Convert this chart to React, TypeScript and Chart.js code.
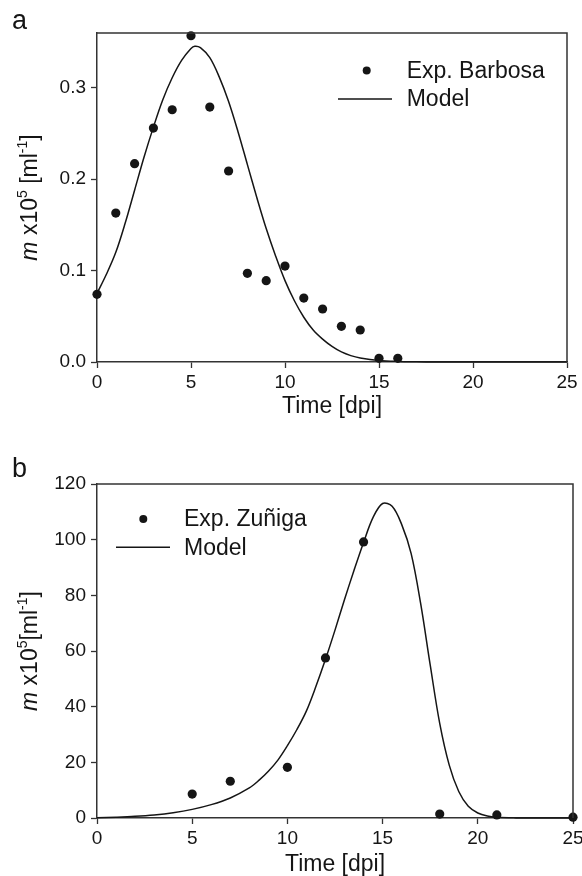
import React, { useEffect, useRef } from "react";
import { Chart, registerables } from "chart.js";

Chart.register(...registerables);

// ---------- Panel a data ----------
const barbosaDays = [0, 1, 2, 3, 4, 5, 6, 7, 8, 9, 10, 11, 12, 13, 14, 15, 16];
const barbosaValues = [0.074, 0.163, 0.217, 0.256, 0.276, 0.357, 0.279, 0.209, 0.097, 0.089, 0.105, 0.070, 0.058, 0.039, 0.035, 0.004, 0.004];
const modelATimes = [0, 0.5, 1, 1.5, 2, 2.5, 3, 3.5, 4, 4.5, 5, 5.2, 5.5, 6, 6.5, 7, 7.5, 8, 8.5, 9, 9.5, 10, 10.5, 11, 11.5, 12, 12.5, 13, 13.5, 14, 15, 16, 17, 18, 20, 25];
const modelAValues = [0.075, 0.096, 0.120, 0.152, 0.188, 0.224, 0.257, 0.287, 0.311, 0.330, 0.343, 0.3455, 0.344, 0.333, 0.312, 0.285, 0.252, 0.216, 0.180, 0.146, 0.116, 0.089, 0.067, 0.049, 0.035, 0.025, 0.017, 0.011, 0.007, 0.0045, 0.0017, 0.0006, 0.0002, 0, 0, 0];
const yTicksA = [0, 0.1, 0.2, 0.3];

// ---------- Panel b data ----------
const zunigaDays = [5, 7, 10, 12, 14, 18, 21, 25];
const zunigaValues = [8.6, 13.2, 18.2, 57.5, 99.2, 1.4, 1.1, 0.3];
const modelBTimes = [0, 1, 2, 3, 4, 5, 6, 7, 8, 8.5, 9, 9.5, 10, 10.5, 11, 11.5, 12, 12.5, 13, 13.5, 14, 14.5, 15, 15.5, 16, 16.5, 17, 17.5, 18, 18.5, 19, 19.5, 20, 20.5, 21, 22, 23, 25];
const modelBValues = [0.1, 0.3, 0.6, 1.1, 1.9, 3.1, 4.8, 7.2, 10.8, 13.5, 16.8, 20.8, 26, 31.8, 38.5, 47.3, 57, 67.5, 78.5, 89, 99, 108, 113, 112, 105.5, 95, 77, 55, 34, 19, 9.5, 4.2, 1.8, 0.7, 0.25, 0.03, 0, 0];
const yTicksB = [0, 20, 40, 60, 80, 100, 120];

const xTicks = [0, 5, 10, 15, 20, 25];

const FONT = "'Liberation Sans', Arial, sans-serif";
const INK = "#151515";
const AXIS = "#333333";

type Part = { t: string; italic?: boolean; sup?: boolean };

function drawRotatedTitle(ctx: CanvasRenderingContext2D, parts: Part[], cx: number, cy: number, size: number) {
  const supSize = Math.round(size * 0.62);
  const fontFor = (p: Part) => `${p.italic ? "italic " : ""}${p.sup ? supSize : size}px ${FONT}`;
  let total = 0;
  for (const p of parts) {
    ctx.font = fontFor(p);
    total += ctx.measureText(p.t).width;
  }
  ctx.save();
  ctx.translate(cx, cy);
  ctx.rotate(-Math.PI / 2);
  ctx.textBaseline = "alphabetic";
  ctx.textAlign = "left";
  ctx.fillStyle = INK;
  let x = -total / 2;
  for (const p of parts) {
    ctx.font = fontFor(p);
    ctx.fillText(p.t, x, p.sup ? -size * 0.42 : 0);
    x += ctx.measureText(p.t).width;
  }
  ctx.restore();
}

type PanelCfg = {
  letter: string;
  offsetTop: number;
  padTop: number;
  padRight: number;
  padBottom: number;
  xHeight: number;
  yMax: number;
  yTicks: number[];
  yDecimals: number;
  expLabel: string;
  expX: number[];
  expY: number[];
  modelX: number[];
  modelY: number[];
  legendDot: [number, number];
  legendLineY: number;
  legendLineX: [number, number];
  legendTextX: number;
  titleParts: Part[];
  titleCx: number;
  letterPos: [number, number];
};

const panels: PanelCfg[] = [
  {
    letter: "a",
    offsetTop: 0,
    padTop: 33,
    padRight: 15,
    padBottom: 20,
    xHeight: 56,
    yMax: 0.36,
    yTicks: yTicksA,
    yDecimals: 1,
    expLabel: "Exp. Barbosa",
    expX: barbosaDays,
    expY: barbosaValues,
    modelX: modelATimes,
    modelY: modelAValues,
    legendDot: [366.7, 70.5],
    legendLineY: 99,
    legendLineX: [338, 392],
    legendTextX: 406.7,
    titleParts: [{ t: "m", italic: true }, { t: " x10" }, { t: "5", sup: true }, { t: " [ml" }, { t: "-1", sup: true }, { t: "]" }],
    titleCx: 37,
    letterPos: [12, 29],
  },
  {
    letter: "b",
    offsetTop: 438,
    padTop: 46,
    padRight: 9,
    padBottom: 0,
    xHeight: 58,
    yMax: 120,
    yTicks: yTicksB,
    yDecimals: 0,
    expLabel: "Exp. Zuñiga",
    expX: zunigaDays,
    expY: zunigaValues,
    modelX: modelBTimes,
    modelY: modelBValues,
    legendDot: [143.3, 81],
    legendLineY: 109.3,
    legendLineX: [116, 170],
    legendTextX: 184,
    titleParts: [{ t: "m", italic: true }, { t: " x10" }, { t: "5", sup: true }, { t: "[ml" }, { t: "-1", sup: true }, { t: "]" }],
    titleCx: 37,
    letterPos: [12, 39],
  },
];

function PanelChart({ cfg }: { cfg: PanelCfg }) {
  const ref = useRef<HTMLCanvasElement | null>(null);

  useEffect(() => {
    if (!ref.current) return;
    const annot = {
      id: "annot",
      afterDraw(chart: any) {
        const ctx: CanvasRenderingContext2D = chart.ctx;
        const a = chart.chartArea;
        ctx.save();
        // top & right frame
        ctx.strokeStyle = AXIS;
        ctx.lineWidth = 1.5;
        ctx.beginPath();
        ctx.moveTo(a.left, a.top);
        ctx.lineTo(a.right, a.top);
        ctx.lineTo(a.right, a.bottom);
        ctx.stroke();
        // panel letter
        ctx.fillStyle = INK;
        ctx.font = `27px ${FONT}`;
        ctx.textAlign = "left";
        ctx.textBaseline = "alphabetic";
        ctx.fillText(cfg.letter, cfg.letterPos[0], cfg.letterPos[1]);
        // legend
        ctx.beginPath();
        ctx.arc(cfg.legendDot[0], cfg.legendDot[1], 4, 0, Math.PI * 2);
        ctx.fill();
        ctx.strokeStyle = INK;
        ctx.lineWidth = 1.4;
        ctx.beginPath();
        ctx.moveTo(cfg.legendLineX[0], cfg.legendLineY);
        ctx.lineTo(cfg.legendLineX[1], cfg.legendLineY);
        ctx.stroke();
        ctx.font = `23px ${FONT}`;
        ctx.textBaseline = "middle";
        ctx.fillText(cfg.expLabel, cfg.legendTextX, cfg.legendDot[1] + 1);
        ctx.fillText("Model", cfg.legendTextX, cfg.legendLineY + 1);
        // y title
        drawRotatedTitle(ctx, cfg.titleParts, cfg.titleCx, (a.top + a.bottom) / 2, 23);
        ctx.restore();
      },
    };

    const chart = new Chart(ref.current, {
      type: "scatter",
      data: {
        datasets: [
          {
            label: "Model",
            data: cfg.modelX.map((x, i) => ({ x, y: cfg.modelY[i] })),
            showLine: true,
            borderColor: INK,
            borderWidth: 1.5,
            pointRadius: 0,
            tension: 0.35,
            clip: false,
          } as any,
          {
            label: cfg.expLabel,
            data: cfg.expX.map((x, i) => ({ x, y: cfg.expY[i] })),
            backgroundColor: INK,
            borderColor: INK,
            pointRadius: 4.6,
            borderWidth: 0,
            clip: false,
          } as any,
        ],
      },
      options: {
        responsive: false,
        animation: false,
        events: [],
        layout: { padding: { left: 0, top: cfg.padTop, right: cfg.padRight, bottom: cfg.padBottom } },
        plugins: { legend: { display: false }, tooltip: { enabled: false } },
        scales: {
          x: {
            type: "linear",
            min: 0,
            max: 25,
            afterBuildTicks: (s: any) => {
              s.ticks = xTicks.map((v) => ({ value: v }));
            },
            afterFit: (s: any) => {
              s.height = cfg.xHeight;
              s.paddingLeft = 0;
              s.paddingRight = 0;
            },
            grid: { drawOnChartArea: false, drawTicks: true, tickLength: 6, color: AXIS, tickColor: AXIS, tickWidth: 1.3 },
            border: { display: true, color: AXIS, width: 1.5 },
            ticks: { color: INK, font: { family: FONT, size: 19 }, padding: 3, maxRotation: 0, autoSkip: false },
            title: {
              display: true,
              text: "Time [dpi]",
              color: INK,
              font: { family: FONT, size: 23, lineHeight: 1 },
              padding: { top: 0, bottom: 0 },
            },
          },
          y: {
            type: "linear",
            min: 0,
            max: cfg.yMax,
            afterBuildTicks: (s: any) => {
              s.ticks = cfg.yTicks.map((v) => ({ value: v }));
            },
            afterFit: (s: any) => {
              s.width = 97;
              s.paddingTop = 0;
              s.paddingBottom = 0;
            },
            grid: { drawOnChartArea: false, drawTicks: true, tickLength: 6, color: AXIS, tickColor: AXIS, tickWidth: 1.3 },
            border: { display: true, color: AXIS, width: 1.5 },
            ticks: {
              color: INK,
              font: { family: FONT, size: 19 },
              padding: 5,
              autoSkip: false,
              callback: (v: any) => Number(v).toFixed(cfg.yDecimals),
            },
          },
        },
      } as any,
      plugins: [annot],
    });
    return () => chart.destroy();
  }, []);

  return (
    <canvas
      ref={ref}
      width={582}
      height={438}
      style={{ display: "block", position: "absolute", left: 0, top: cfg.offsetTop, width: 582, height: 438 }}
    />
  );
}

export default function App() {
  return (
    <div style={{ position: "absolute", left: 0, top: 0, width: 582, height: 876, background: "#ffffff" }}>
      {panels.map((p) => (
        <PanelChart key={p.letter} cfg={p} />
      ))}
    </div>
  );
}
